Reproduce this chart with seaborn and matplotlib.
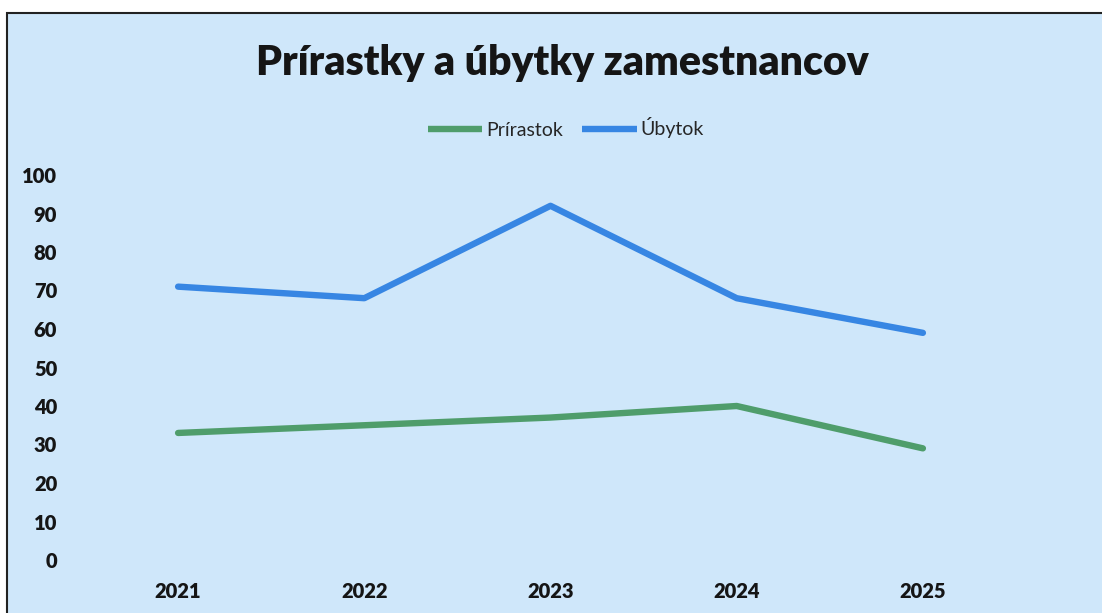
import numpy as np
import pandas as pd
import matplotlib
matplotlib.use("Agg")
import matplotlib.pyplot as plt
import seaborn as sns
from matplotlib.patches import Rectangle


# --------------------------
# data
# --------------------------
roky = ["2021", "2022", "2023", "2024", "2025"]
prirastok = [33, 35, 37, 40, 29]
ubytok = [71, 68, 92, 68, 59]
y_ticks = [0, 10, 20, 30, 40, 50, 60, 70, 80, 90, 100]

nazov = "Prírastky a úbytky zamestnancov"
serie = ["Prírastok", "Úbytok"]
farby = {"Prírastok": "#4f9d6b", "Úbytok": "#3786e3"}

df = pd.DataFrame({
    "rok": roky * 2,
    "hodnota": prirastok + ubytok,
    "seria": [serie[0]] * len(roky) + [serie[1]] * len(roky),
})

sns.set_style("white")
plt.rcParams["font.family"] = ["Lato", "DejaVu Sans"]

W, H = 1102, 613
fig = plt.figure(figsize=(W / 100, H / 100), dpi=100)
fig.patch.set_facecolor("white")

# light blue chart area with black left/top border (scan edge)
bg = Rectangle((7 / W, -0.05), 1.2, 1 - 13 / H + 0.05, transform=fig.transFigure,
               facecolor="#cfe7fa", edgecolor="#222222", linewidth=1.5, zorder=-1)
fig.patches.append(bg)

ax = fig.add_axes([85 / W, 53 / H, (1016 - 85) / W, (560 - 175) / H])
ax.set_facecolor("none")
ax.set_zorder(1)

sns.lineplot(data=df, x="rok", y="hodnota", hue="seria", palette=farby,
             linewidth=4.6, ax=ax, legend=False, sort=False)
for ln in ax.lines:
    ln.set_solid_capstyle("round")
    ln.set_solid_joinstyle("round")

ax.set_xlim(-0.5, len(roky) - 0.5)
ax.set_ylim(0, 100)
ax.set_yticks(y_ticks)
ax.set_yticklabels([str(t) for t in y_ticks], fontsize=14.5, fontweight="heavy", color="#151515")
ax.set_xticks(range(len(roky)))
ax.set_xticklabels(roky, fontsize=14.5, fontweight="heavy", color="#151515")
ax.tick_params(axis="y", length=0, pad=20)
ax.tick_params(axis="x", length=0, pad=16)
ax.set_xlabel("")
ax.set_ylabel("")
for s in ax.spines.values():
    s.set_visible(False)

fig.text(562 / W, 1 - 63 / H, nazov, ha="center", va="center",
         fontsize=29.5, fontweight="heavy", color="#151515")

handles = [plt.Line2D([], [], color=farby[s], linewidth=4.6, solid_capstyle="butt") for s in serie]
fig.legend(handles, serie, loc="center", bbox_to_anchor=(566 / W, 1 - 128 / H), ncol=2,
           frameon=False, fontsize=14, handlelength=2.8, handletextpad=0.2,
           columnspacing=1.0)

fig.savefig("out.png", dpi=100)
